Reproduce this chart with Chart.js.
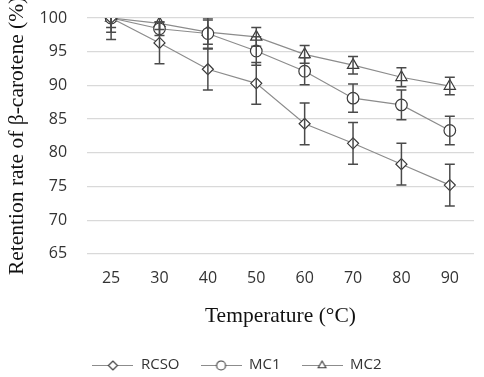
<!DOCTYPE html>
<html lang="en">
<head>
<meta charset="UTF-8" />
<title>Retention rate of β-carotene</title>
<script src="https://cdn.jsdelivr.net/npm/chart.js"></script>
<style>
  body { margin: 0; background: #fff; }
  #box { width: 484px; height: 377px; }
</style>
</head>
<body>
<div id="box"><canvas id="grafico" width="484" height="377"></canvas></div>
<script>
  // dados
  const temperaturas = ['25', '30', '40', '50', '60', '70', '80', '90'];
  const rcso = [100, 96.3, 92.4, 90.3, 84.3, 81.4, 78.3, 75.2];
  const rcsoErro = [3.2, 3.1, 3.1, 3.1, 3.1, 3.1, 3.1, 3.1];
  const mc1 = [100, 98.4, 97.7, 95.1, 92.1, 88.1, 87.1, 83.3];
  const mc1Erro = [2.1, 1.0, 2.3, 2.1, 2.0, 2.1, 2.2, 2.1];
  const mc2 = [100, 99.2, 97.9, 97.2, 94.6, 93.0, 91.2, 89.9];
  const mc2Erro = [1.4, 0.9, 1.8, 1.4, 1.3, 1.3, 1.4, 1.3];
  const yTicks = [65, 70, 75, 80, 85, 90, 95, 100];

  const corLinha = '#8c8c8c';
  const corMarcador = '#3a3a3a';
  const raios = { rectRot: 5.5, circle: 5.8, triangle: 6.5 };

  // desenha marcador com a linha para a legenda
  function iconeLegenda(estilo) {
    const c = document.createElement('canvas');
    c.width = 41; c.height = 14;
    const g = c.getContext('2d');
    g.strokeStyle = corLinha; g.lineWidth = 1;
    g.beginPath(); g.moveTo(0, 7.5); g.lineTo(41, 7.5); g.stroke();
    g.fillStyle = '#fff'; g.strokeStyle = corMarcador; g.lineWidth = 1.1;
    Chart.helpers.drawPoint(g, { pointStyle: estilo, radius: 4.5, borderWidth: 1.1 }, 20.5, 7.5);
    return c;
  }

  // plugin das barras de erro (cortadas na area do grafico, como no Excel)
  const barrasErro = {
    id: 'barrasErro',
    afterDatasetsDraw(chart) {
      const ctx = chart.ctx;
      const y = chart.scales.y;
      ctx.save();
      Chart.helpers.clipArea(ctx, chart.chartArea);
      ctx.strokeStyle = '#4a4a4a';
      ctx.lineWidth = 1.5;
      chart.data.datasets.forEach((ds, i) => {
        const meta = chart.getDatasetMeta(i);
        meta.data.forEach((pt, j) => {
          const v = ds.data[j], e = ds.erro[j];
          const yt = y.getPixelForValue(v + e);
          const yb = y.getPixelForValue(v - e);
          ctx.beginPath();
          ctx.moveTo(pt.x, yt); ctx.lineTo(pt.x, yb);
          ctx.moveTo(pt.x - 5, yt); ctx.lineTo(pt.x + 5, yt);
          ctx.moveTo(pt.x - 5, yb); ctx.lineTo(pt.x + 5, yb);
          ctx.stroke();
        });
      });
      Chart.helpers.unclipArea(ctx);
      ctx.restore();
    }
  };

  function serie(nome, dados, erro, estilo) {
    return {
      label: nome,
      data: dados,
      erro: erro,
      borderColor: corLinha,
      borderWidth: 1.2,
      pointStyle: estilo,
      pointRadius: raios[estilo],
      pointBackgroundColor: '#fff',
      pointBorderColor: corMarcador,
      pointBorderWidth: 1.2,
      tension: 0,
      fill: false,
      iconeLeg: iconeLegenda(estilo)
    };
  }

  const ctx = document.getElementById('grafico').getContext('2d');
  const grafico = new Chart(ctx, {
    type: 'line',
    data: {
      labels: temperaturas,
      datasets: [
        serie('RCSO', rcso, rcsoErro, 'rectRot'),
        serie('MC1', mc1, mc1Erro, 'circle'),
        serie('MC2', mc2, mc2Erro, 'triangle')
      ]
    },
    options: {
      responsive: false,
      animation: false,
      layout: { padding: { left: 0, right: 10, top: 18, bottom: -5.5 } },
      plugins: {
        tooltip: { enabled: false },
        legend: {
          position: 'bottom',
          labels: {
            usePointStyle: true,
            pointStyleWidth: 41,
            padding: 21,
            color: '#333',
            font: { family: 'Open Sans', size: 15 },
            generateLabels(chart) {
              return chart.data.datasets.map((ds, i) => ({
                text: ds.label,
                pointStyle: ds.iconeLeg,
                fillStyle: '#fff',
                strokeStyle: corMarcador,
                lineWidth: 0,
                fontColor: '#333',
                hidden: false,
                datasetIndex: i
              }));
            }
          }
        }
      },
      scales: {
        x: {
          offset: true,
          grid: { display: false, drawTicks: false },
          border: { display: false },
          ticks: { color: '#333', font: { family: 'Open Sans', size: 16 }, padding: 15.4 },
          title: {
            display: true,
            text: 'Temperature (°C)',
            color: '#111',
            font: { family: 'Liberation Serif', size: 21.5 },
            padding: { top: 0, bottom: 6.9 }
          }
        },
        y: {
          min: 65,
          max: 100,
          afterBuildTicks(axis) { axis.ticks = yTicks.map(v => ({ value: v })); },
          grid: { color: '#d9d9d9', lineWidth: 1.2, drawTicks: false },
          border: { display: false },
          ticks: {
            color: '#333',
            font: { family: 'Open Sans', size: 16 },
            padding: 7.4,
            callback: v => v + '   '
          },
          title: {
            display: true,
            text: 'Retention rate of β-carotene (%)',
            color: '#111',
            font: { family: 'Liberation Serif', size: 21.5 },
            padding: { top: 4.1, bottom: 2.3 }
          }
        }
      }
    },
    plugins: [barrasErro]
  });
</script>
</body>
</html>
